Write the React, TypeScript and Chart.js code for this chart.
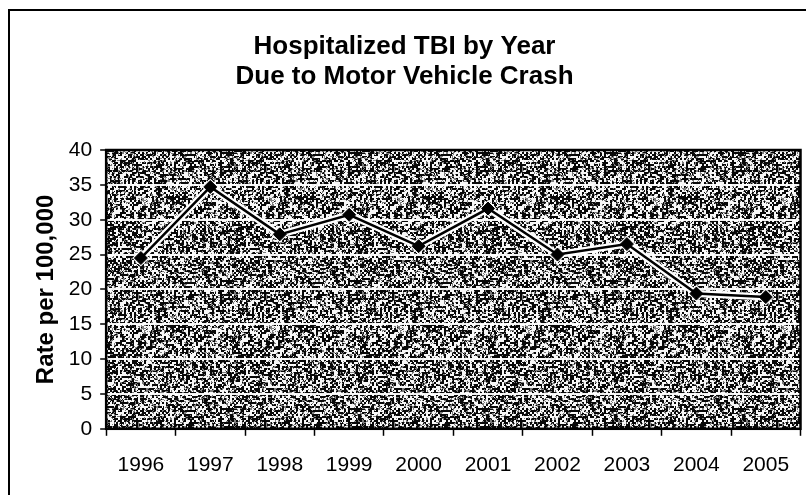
import React, { useEffect, useRef } from 'react';
import { Chart, registerables } from 'chart.js';

Chart.register(...registerables);

const years = ['1996', '1997', '1998', '1999', '2000', '2001', '2002', '2003', '2004', '2005'];
const rates = [24.5, 34.7, 27.9, 30.7, 26.2, 31.6, 25.0, 26.5, 19.4, 18.9];
const yMin = 0;
const yMax = 40;
const yStep = 5;
const titleLines = ['Hospitalized TBI by Year', 'Due to Motor Vehicle Crash'];
const yAxisTitle = 'Rate per 100,000';

const FONT = "'Liberation Sans', Arial, Helvetica, sans-serif";

function hash(x: number, y: number, s: number): number {
  let h = Math.imul(x, 374761393) + Math.imul(y, 668265263) + Math.imul(s, 1442695041);
  h = Math.imul(h ^ (h >>> 13), 1274126177);
  h ^= h >>> 16;
  return (h >>> 0) / 4294967296;
}

function makeNoiseCanvas(): HTMLCanvasElement {
  const size = 128;
  const c = document.createElement('canvas');
  c.width = size;
  c.height = size;
  const g = c.getContext('2d')!;
  const img = g.createImageData(size, size);
  for (let y = 0; y < size; y++) {
    for (let x = 0; x < size; x++) {
      const coarse = hash(x >> 1, y >> 1, 7);
      const fine = hash(x, y, 3);
      const v = coarse * 0.7 + fine * 0.3;
      let c0: number;
      if (v < 0.46) c0 = 8;
      else if (v < 0.58) c0 = 125;
      else c0 = 248;
      const i = (y * size + x) * 4;
      img.data[i] = c0;
      img.data[i + 1] = c0;
      img.data[i + 2] = c0;
      img.data[i + 3] = 255;
    }
  }
  g.putImageData(img, 0, 0);
  return c;
}

const plotBgPlugin = {
  id: 'plotBg',
  beforeDraw(chart: any) {
    const { ctx, chartArea } = chart;
    if (!chartArea) return;
    const pat = ctx.createPattern(makeNoiseCanvas(), 'repeat');
    ctx.save();
    ctx.fillStyle = pat || '#6e6e6e';
    ctx.fillRect(chartArea.left, chartArea.top, chartArea.right - chartArea.left, chartArea.bottom - chartArea.top);
    ctx.restore();
  },
  beforeDatasetsDraw(chart: any) {
    const { ctx, chartArea } = chart;
    ctx.save();
    ctx.strokeStyle = '#000';
    ctx.lineWidth = 2.5;
    ctx.strokeRect(chartArea.left, chartArea.top, chartArea.right - chartArea.left, chartArea.bottom - chartArea.top);
    ctx.restore();
  },
};

export default function App() {
  const ref = useRef<HTMLCanvasElement | null>(null);

  useEffect(() => {
    document.body.style.margin = '0';
    if (!ref.current) return;
    const chart = new Chart(ref.current, {
      type: 'line',
      data: {
        labels: years,
        datasets: [
          {
            label: 'Rate',
            data: rates,
            borderColor: '#000',
            backgroundColor: '#000',
            borderWidth: 2.5,
            pointStyle: 'rectRot',
            pointRadius: 6.5,
            pointBackgroundColor: '#000',
            pointBorderColor: '#000',
            pointBorderWidth: 1,
            tension: 0,
            order: 1,
          },
          {
            label: 'halo',
            data: rates,
            borderColor: '#fff',
            borderWidth: 7,
            pointStyle: 'rectRot',
            pointRadius: 8.5,
            pointBackgroundColor: '#fff',
            pointBorderColor: '#fff',
            pointBorderWidth: 0,
            tension: 0,
            order: 2,
          },
        ],
      },
      options: {
        responsive: false,
        animation: false,
        events: [],
        layout: { padding: { left: 0, right: 0, top: 0, bottom: 0 } },
        plugins: {
          legend: { display: false },
          tooltip: { enabled: false },
          title: {
            display: true,
            text: titleLines,
            color: '#000',
            font: { family: FONT, size: 26, weight: 'bold', lineHeight: 1.154 },
            padding: { top: 32, bottom: 58 },
          },
        },
        scales: {
          x: {
            type: 'category',
            offset: true,
            grid: {
              display: true,
              drawOnChartArea: false,
              offset: true,
              tickLength: 7,
              tickColor: '#000',
              tickWidth: 1.5,
            },
            border: { display: true, color: '#000', width: 2 },
            ticks: {
              color: '#000',
              font: { family: FONT, size: 21 },
              padding: 17,
              maxRotation: 0,
              autoSkip: false,
            },
          },
          y: {
            min: yMin,
            max: yMax,
            grid: {
              color: 'rgba(255,255,255,0.95)',
              lineWidth: 2,
              tickColor: '#000',
              tickLength: 6,
              tickWidth: 1.5,
            },
            border: { display: true, color: '#000', width: 2 },
            ticks: {
              stepSize: yStep,
              color: '#000',
              font: { family: FONT, size: 21 },
              padding: 8,
            },
            title: {
              display: true,
              text: yAxisTitle,
              color: '#000',
              font: { family: FONT, size: 24, weight: 'bold', lineHeight: 1.2 },
              padding: { top: 32, bottom: 0 },
            },
          },
        },
      },
      plugins: [plotBgPlugin],
    });
    return () => chart.destroy();
  }, []);

  return (
    <div style={{ position: 'relative', width: 806, height: 495, overflow: 'hidden', background: '#fff' }}>
      <canvas ref={ref} width={809} height={495} style={{ display: 'block', position: 'absolute', left: 0, top: 0 }} />
      <div
        style={{
          position: 'absolute',
          left: 8,
          top: 9,
          width: 900,
          height: 600,
          borderLeft: '2px solid #000',
          borderTop: '2px solid #000',
          pointerEvents: 'none',
        }}
      />
    </div>
  );
}
